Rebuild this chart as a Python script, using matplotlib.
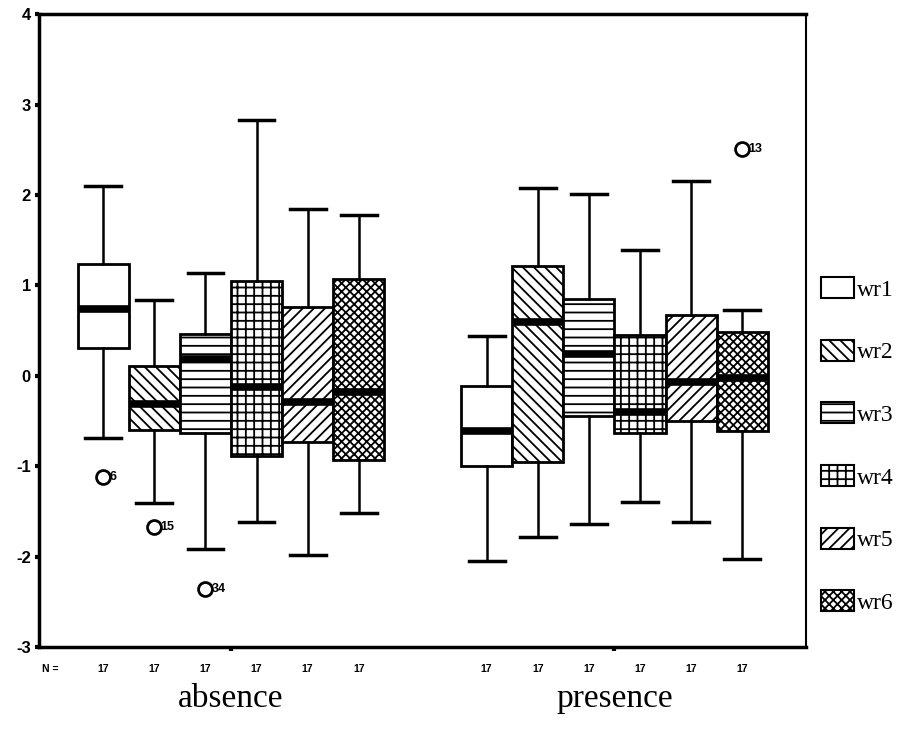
import numpy as np
import matplotlib
matplotlib.use("Agg")
import matplotlib.pyplot as plt
from matplotlib.patches import Patch
import matplotlib.transforms as mtransforms

# groups and variables
groups = ["absence", "presence"]
series = ["wr1", "wr2", "wr3", "wr4", "wr5", "wr6"]
hatches = ["", "\\\\\\", "--", "++", "///", "xxxx"]
n_cases = [17, 17, 17, 17, 17, 17]

# five number summaries, one row per variable: (low whisker, Q1, median, Q3, high whisker)
absence_stats = [
    (-0.69, 0.31, 0.74, 1.24, 2.10),
    (-1.41, -0.60, -0.31, 0.11, 0.84),
    (-1.92, -0.63, 0.19, 0.46, 1.14),
    (-1.62, -0.89, -0.12, 1.05, 2.83),
    (-1.98, -0.73, -0.29, 0.76, 1.84),
    (-1.52, -0.93, -0.18, 1.07, 1.78),
]
presence_stats = [
    (-2.05, -1.00, -0.61, -0.11, 0.44),
    (-1.78, -0.95, 0.60, 1.21, 2.08),
    (-1.64, -0.45, 0.24, 0.85, 2.01),
    (-1.40, -0.63, -0.40, 0.45, 1.39),
    (-1.62, -0.50, -0.07, 0.67, 2.16),
    (-2.03, -0.61, -0.02, 0.49, 0.73),
]
# outliers: (group, variable index, value, case number)
outliers = [
    (0, 0, -1.12, "6"),
    (0, 1, -1.67, "15"),
    (0, 2, -2.36, "34"),
    (1, 5, 2.51, "13"),
]

plt.rcParams["hatch.linewidth"] = 1.3

fig = plt.figure(figsize=(9.12, 7.29), dpi=100)
ax = fig.add_axes([0.043, 0.1125, 0.841, 0.868])
below = mtransforms.blended_transform_factory(ax.transData, ax.transAxes)

nvar = len(series)
width = 0.8 / nvar
offsets = (np.arange(nvar) - (nvar - 1) / 2) * width

all_stats = [absence_stats, presence_stats]
for g, gstats in enumerate(all_stats):
    bstats = []
    for lo, q1, med, q3, hi in gstats:
        bstats.append(dict(whislo=lo, q1=q1, med=med, q3=q3, whishi=hi, fliers=[]))
    pos = g + offsets
    bp = ax.bxp(bstats, positions=pos, widths=width, capwidths=width * 0.7,
                patch_artist=True, showfliers=False, manage_ticks=False,
                boxprops=dict(facecolor="white", edgecolor="black", linewidth=2),
                medianprops=dict(color="black", linewidth=5.5, solid_capstyle="butt"),
                whiskerprops=dict(color="black", linewidth=1.8),
                capprops=dict(color="black", linewidth=2.5))
    for box, h in zip(bp["boxes"], hatches):
        box.set_hatch(h)
    # case counts under each box
    for x, n in zip(pos, n_cases):
        ax.text(x, -0.027, str(n), transform=below, ha="center", va="top",
                fontsize=7.5, fontweight="bold", family="Liberation Sans")
    ax.text(g, -0.058, groups[g], transform=below, ha="center", va="top",
            fontsize=24, family="Liberation Serif")

for g, i, val, lab in outliers:
    x = g + offsets[i]
    ax.plot(x, val, "o", mfc="white", mec="black", mew=2, ms=10, zorder=5)
    ax.annotate(lab, (x, val), xytext=(4.5, 0), textcoords="offset points",
                ha="left", va="center", fontsize=9, fontweight="bold", family="Liberation Sans")

ax.text(0.003, -0.027, "N =", transform=ax.transAxes, ha="left", va="top",
        fontsize=7.5, fontweight="bold", family="Liberation Sans")

ax.set_xlim(-0.5, 1.5)
ax.set_ylim(-3, 4)
ax.set_yticks(range(-3, 5))
ax.set_yticklabels([str(v) for v in range(-3, 5)], fontsize=12, fontweight="bold",
                   family="Liberation Sans")
ax.set_xticks([0, 1])
ax.set_xticklabels([])
ax.tick_params(axis="both", direction="out", length=3, width=3, pad=3)
for side, lw in [("left", 2.5), ("bottom", 2.5), ("top", 2.5), ("right", 1.5)]:
    ax.spines[side].set_linewidth(lw)

handles = [Patch(facecolor="white", edgecolor="black", hatch=h, linewidth=1.5) for h in hatches]
fig.legend(handles, series, loc="center left", bbox_to_anchor=(0.877, 0.389),
           frameon=False, prop=dict(family="Liberation Serif", size=17),
           handlelength=1.4, handleheight=1.0, handletextpad=0.1, labelspacing=1.65)

fig.savefig("out.png", dpi=100)
